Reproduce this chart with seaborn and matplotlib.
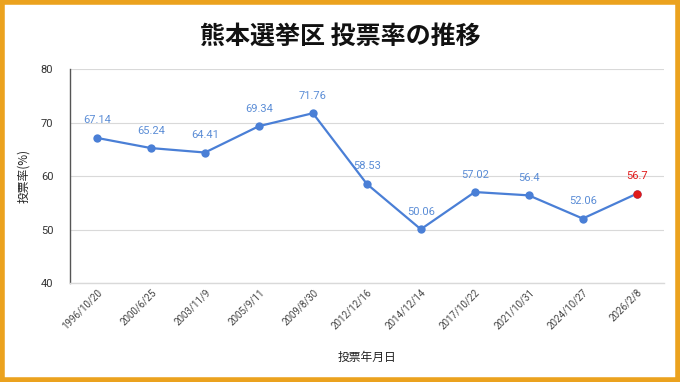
import matplotlib
matplotlib.use("Agg")
import matplotlib.pyplot as plt
import matplotlib.patches as mpatches
import seaborn as sns
import pandas as pd

# --- DATA ---
dates = ["1996/10/20", "2000/6/25", "2003/11/9", "2005/9/11", "2009/8/30",
         "2012/12/16", "2014/12/14", "2017/10/22", "2021/10/31", "2024/10/27", "2026/2/8"]
turnout = [67.14, 65.24, 64.41, 69.34, 71.76, 58.53, 50.06, 57.02, 56.4, 52.06, 56.7]
labels = ["67.14", "65.24", "64.41", "69.34", "71.76", "58.53", "50.06", "57.02", "56.4", "52.06", "56.7"]
y_ticks = [40, 50, 60, 70, 80]

LINE_BLUE = "#4A7FD6"
LABEL_BLUE = "#5B8DD6"
RED = "#E01B1B"
JP = ["Noto Sans CJK JP", "DejaVu Sans"]

sns.set_style("white")
plt.rcParams["font.family"] = ["Roboto", "Noto Sans CJK JP", "DejaVu Sans"]

df = pd.DataFrame({"date": dates, "turnout": turnout})

fig = plt.figure(figsize=(6.8, 3.82), dpi=100)
ax = fig.add_axes([0.103, 0.259, 0.873, 0.560])

sns.lineplot(data=df, x="date", y="turnout", sort=False, color=LINE_BLUE,
             linewidth=1.6, marker="o", markersize=6, markeredgewidth=0, ax=ax)
# highlight latest election
ax.scatter([len(dates) - 1], [turnout[-1]], s=36, color=RED, zorder=5, linewidth=0)

for i, (v, lab) in enumerate(zip(turnout, labels)):
    c = RED if i == len(dates) - 1 else LABEL_BLUE
    ax.annotate(lab, (i, v), xytext=(0, 9), textcoords="offset points",
                ha="center", va="bottom", fontsize=8, color=c)

ax.set_xlim(-0.5, len(dates) - 0.5)
ax.set_ylim(40, 80)
ax.set_yticks(y_ticks)
ax.grid(axis="y", color="#D9D9D9", linewidth=0.8)
ax.set_axisbelow(True)

for s in ["top", "right"]:
    ax.spines[s].set_visible(False)
ax.spines["left"].set_color("#555555")
ax.spines["left"].set_linewidth(1.0)
ax.spines["bottom"].set_color("#D9D9D9")
ax.spines["bottom"].set_linewidth(1.0)

ax.tick_params(axis="y", labelsize=8, colors="#333333", length=0, pad=12)
ax.tick_params(axis="x", labelsize=7, colors="#444444", length=0, pad=3)
plt.setp(ax.get_xticklabels(), rotation=45, ha="right", rotation_mode="anchor")

ax.set_xlabel("投票年月日", fontsize=8.5, family=JP, labelpad=14, color="#222222")
ax.set_ylabel("投票率(%)", fontsize=8.5, family=JP, labelpad=8, color="#222222")

fig.text(0.5, 0.905, "熊本選挙区 投票率の推移", ha="center", va="center",
         fontsize=18, fontweight="bold", family=JP, color="#111111")

# orange frame
fig.patches.append(mpatches.Rectangle((0.003, 0.005), 0.994, 0.99, transform=fig.transFigure,
                                      fill=False, edgecolor="#EBA21E", linewidth=4))

fig.savefig("out.png", dpi=100)
